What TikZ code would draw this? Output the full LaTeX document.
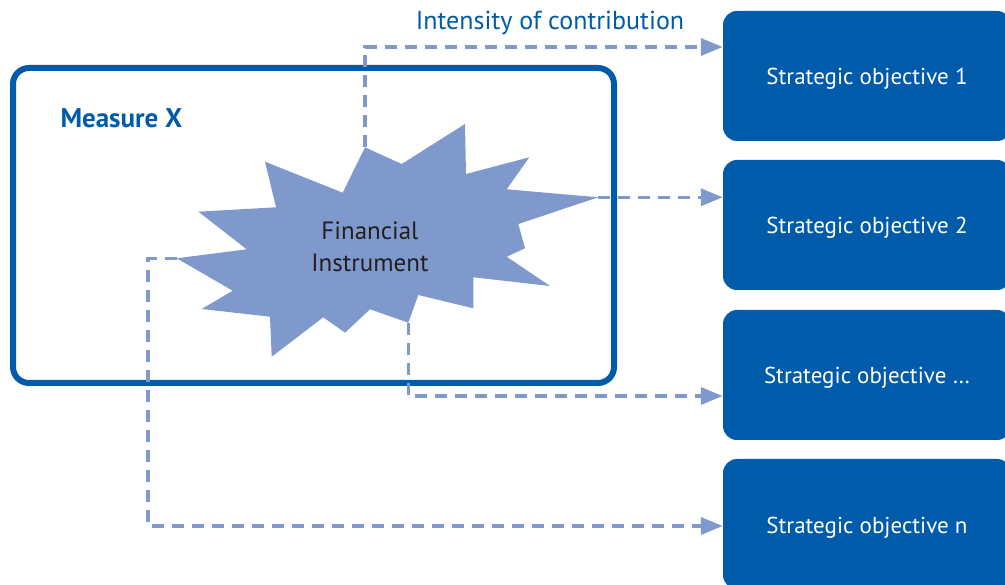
\documentclass[tikz,border=0pt]{standalone}
\usepackage{fontspec}
\setmainfont{PT Sans}
\usetikzlibrary{arrows.meta}
\definecolor{darkblue}{RGB}{0,91,170}
\definecolor{lightblue}{RGB}{128,153,204}
\definecolor{textgray}{RGB}{35,31,32}
\begin{document}
\begin{tikzpicture}[x=1pt, y=-1pt,
    objbox/.style={fill=darkblue, rounded corners=14pt, minimum width=288pt, minimum height=130pt,
      text=white, font=\fontsize{23}{27}\selectfont, inner sep=0pt, text height=20pt, text depth=2pt},
    link/.style={draw=lightblue, line width=3.5pt, dash pattern=on 12pt off 8pt,
      -{Triangle[length=22pt, width=17pt]}}]
  \useasboundingbox (0,0) rectangle (1005,585);

  % Measure box
  \node[draw=darkblue, line width=6pt, rounded corners=16pt, minimum width=601pt,
    minimum height=315pt, inner sep=0pt] (measure) at (313.5,225.5) {};
  \node[anchor=west, text=darkblue, font=\fontsize{27}{31}\selectfont\bfseries] (mlabel) at (57,118) {Measure X};

  % Strategic objectives
  \node[objbox] (obj1) at (867,76) {Strategic objective 1};
  \node[objbox] (obj2) at (867,225) {Strategic objective 2};
  \node[objbox] (obj3) at (867,375) {Strategic objective \dots};
  \node[objbox] (obj4) at (867,524) {Strategic objective n};

  % Financial instrument (starburst)
  \coordinate (tipN) at (365,147.3);
  \coordinate (tipE) at (598.3,197.3);
  \coordinate (tipS) at (408.3,322.7);
  \coordinate (tipW) at (176.7,258.3);
  \fill[lightblue] (tipN) -- (401.7,164) -- (465,124) -- (466,174) -- (529.3,157.3)
    -- (506.7,189.3) -- (tipE) -- (518.3,224) -- (525,248.3) -- (506.7,256.7)
    -- (550,286) -- (473.3,277.3) -- (473.3,308.3) -- (418.3,295) -- (tipS)
    -- (370,309.3) -- (345,332.7) -- (323.3,317.3) -- (271.7,356.7) -- (270,316.7)
    -- (201.7,309) -- (232.7,290.7) -- (tipW) -- (246.7,249.3) -- (198.3,211.7)
    -- (276,207.3) -- (265,161.7) -- (342.7,192.7) -- cycle;
  \node[align=center, text=textgray, font=\fontsize{25}{32}\selectfont] (fin) at (370,247) {Financial\\Instrument};

  % Contribution links
  \coordinate (b1) at (365,47);
  \coordinate (b3) at (408.3,396);
  \coordinate (b4a) at (148,258.3);
  \coordinate (b4b) at (148,526);
  \draw[link] (tipN) -- (b1) -- (b1 -| obj1.west);
  \draw[link] (tipE) -- (tipE -| obj2.west);
  \draw[link] (tipS) -- (b3) -- (b3 -| obj3.west);
  \draw[link] (tipW) -- (b4a) -- (b4b) -- (b4b -| obj4.west);
  \node[text=darkblue, font=\fontsize{26}{30}\selectfont] (intensity) at (550,23) {Intensity of contribution};
\end{tikzpicture}
\end{document}
